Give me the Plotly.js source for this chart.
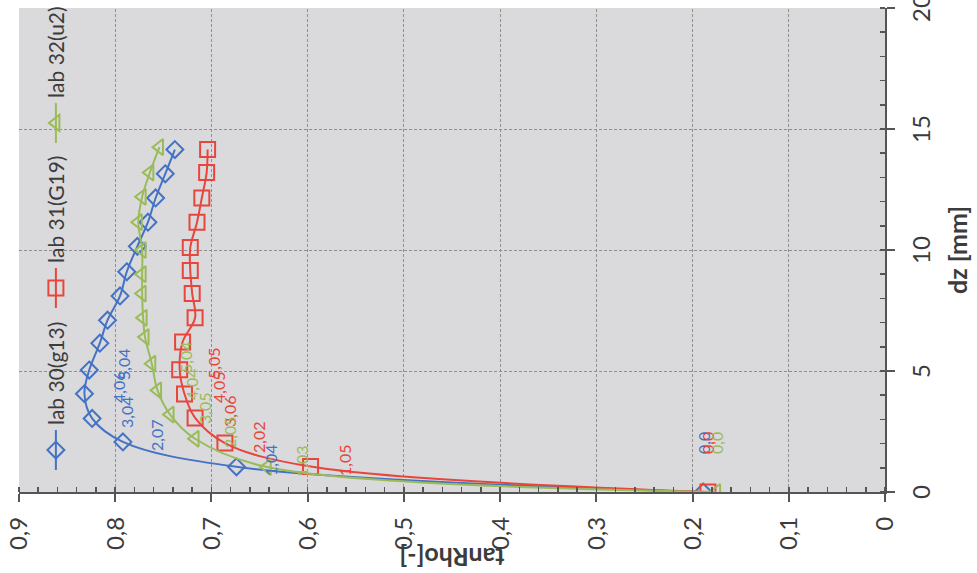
<!DOCTYPE html>
<html><head><meta charset="utf-8">
<script src="https://cdn.plot.ly/plotly-3.0.1.min.js"></script>
<style>
html,body{margin:0;padding:0;background:#fff;overflow:hidden;width:977px;height:573px;}
#chart{position:absolute;left:0;top:0;width:573px;height:977px;transform-origin:0 0;transform:translate(0px,573px) rotate(-90deg);}
</style></head><body><div id="chart"></div>
<script>
// Series names
const seriesNames = ['lab 30(g13)', 'lab 31(G19)', 'lab 32(u2)'];

// lab 30(g13)
const dz30  = [0, 1.04, 2.07, 3.04, 4.06, 5.04, 6.15, 7.1, 8.1, 9.1, 10.15, 11.15, 12.15, 13.15, 14.15];
const tan30 = [0.189, 0.674, 0.792, 0.824, 0.832, 0.827, 0.816, 0.808, 0.795, 0.788, 0.777, 0.766, 0.758, 0.748, 0.738];
const lbl30 = ['0,0', '1,04', '2,07', '3,04', '4,06', '5,04', '', '', '', '', '', '', '', '', ''];

// lab 31(G19)
const dz31  = [0, 1.05, 2.02, 3.06, 4.05, 5.05, 6.2, 7.2, 8.2, 9.15, 10.1, 11.15, 12.15, 13.2, 14.15];
const tan31 = [0.184, 0.597, 0.686, 0.717, 0.728, 0.733, 0.730, 0.717, 0.720, 0.722, 0.722, 0.715, 0.710, 0.705, 0.704];
const lbl31 = ['0,0', '1,05', '2,02', '3,06', '4,05', '5,05', '', '', '', '', '', '', '', '', ''];

// lab 32(u2)
const dz32  = [0, 1.03, 2.2, 3.2, 4.2, 5.3, 6.4, 7.2, 8.2, 9.0, 10.0, 11.15, 12.2, 13.2, 14.25];
const tan32 = [0.175, 0.642, 0.717, 0.743, 0.756, 0.762, 0.769, 0.771, 0.772, 0.772, 0.772, 0.776, 0.772, 0.764, 0.754];
const lbl32 = ['0,0', '1,03', '2,05', '3,05', '4,04', '5,04', '', '', '', '', '', '', '', '', ''];

// Axis ticks
const dzTicks = [0, 5, 10, 15, 20];
const tanTicks = [0, 0.1, 0.2, 0.3, 0.4, 0.5, 0.6, 0.7, 0.8, 0.9];
const tanTickText = ['0', '0,1', '0,2', '0,3', '0,4', '0,5', '0,6', '0,7', '0,8', '0,9'];

const colors = ['#4472C4', '#E8453C', '#9BBB59'];
const symbols = ['diamond-open', 'square-open', 'triangle-up-open'];
const msize = [13, 15, 14];
const legendIds = ['legend', 'legend2', 'legend3'];
const legendX = [0.035, 0.370, 0.711];

const xs = [dz30, dz31, dz32];
const ys = [tan30, tan31, tan32];
const lbls = [lbl30, lbl31, lbl32];

const traces = xs.map((x, k) => ({
  type: 'scatter', mode: 'lines+markers', name: seriesNames[k],
  x: x, y: ys[k], legend: legendIds[k],
  line: {color: colors[k], width: 2, shape: 'spline', smoothing: 1},
  marker: {symbol: symbols[k], size: msize[k], color: colors[k], line: {width: 2, color: colors[k]}}
}));

const annotations = [];
xs.forEach((x, k) => {
  x.forEach((v, i) => {
    if (!lbls[k][i]) return;
    annotations.push({
      x: v, y: ys[k][i], xref: 'x', yref: 'y', text: lbls[k][i], showarrow: false,
      font: {family: 'Lato, sans-serif', size: 16, color: colors[k]},
      xshift: i === 0 ? 49 : 6, yshift: i === 0 ? 0 : -34
    });
  });
});

const axisCommon = {
  showgrid: true, gridcolor: '#8f8f8f', griddash: '3px,2px', gridwidth: 1,
  showline: true, linecolor: '#555', linewidth: 2,
  ticks: 'outside', ticklen: 8, tickwidth: 2, tickcolor: '#555',
  zeroline: false, automargin: false, ticklabeloverflow: 'allow'
};

const layout = {
  width: 573, height: 977,
  margin: {l: 81, r: 8, t: 19, b: 92, pad: 0, autoexpand: false},
  paper_bgcolor: '#ffffff', plot_bgcolor: '#dadadc',
  separators: ', ',
  font: {family: 'Lato, sans-serif', size: 24, color: '#3c3c3c'},
  showlegend: true,
  xaxis: Object.assign({}, axisCommon, {
    range: [0, 20], tickvals: dzTicks, ticklabelstandoff: 6,
    minor: {dtick: 1, tick0: 0, ticks: 'inside', ticklen: 5, tickwidth: 1.5, tickcolor: '#555', showgrid: false},
    title: {text: 'dz [mm]', font: {size: 25, weight: 'bold', color: '#3c3c3c'}, standoff: 16}
  }),
  yaxis: Object.assign({}, axisCommon, {
    range: [0, 0.9], tickvals: tanTicks, ticktext: tanTickText, ticklabelstandoff: 10,
    minor: {dtick: 0.02, tick0: 0, ticks: 'inside', ticklen: 5, tickwidth: 1.5, tickcolor: '#555', showgrid: false},
    title: {text: 'tanRho[-]', font: {size: 25, weight: 'bold', color: '#3c3c3c'}, standoff: 0}
  }),
  annotations: annotations
};
legendIds.forEach((id, k) => {
  layout[id] = {orientation: 'h', x: legendX[k], xanchor: 'left', y: 0.957, yanchor: 'middle',
                itemwidth: 40, bgcolor: 'rgba(0,0,0,0)', font: {size: 21, color: '#3c3c3c'}};
});

Plotly.newPlot('chart', traces, layout, {displayModeBar: false, staticPlot: true});
</script></body></html>
